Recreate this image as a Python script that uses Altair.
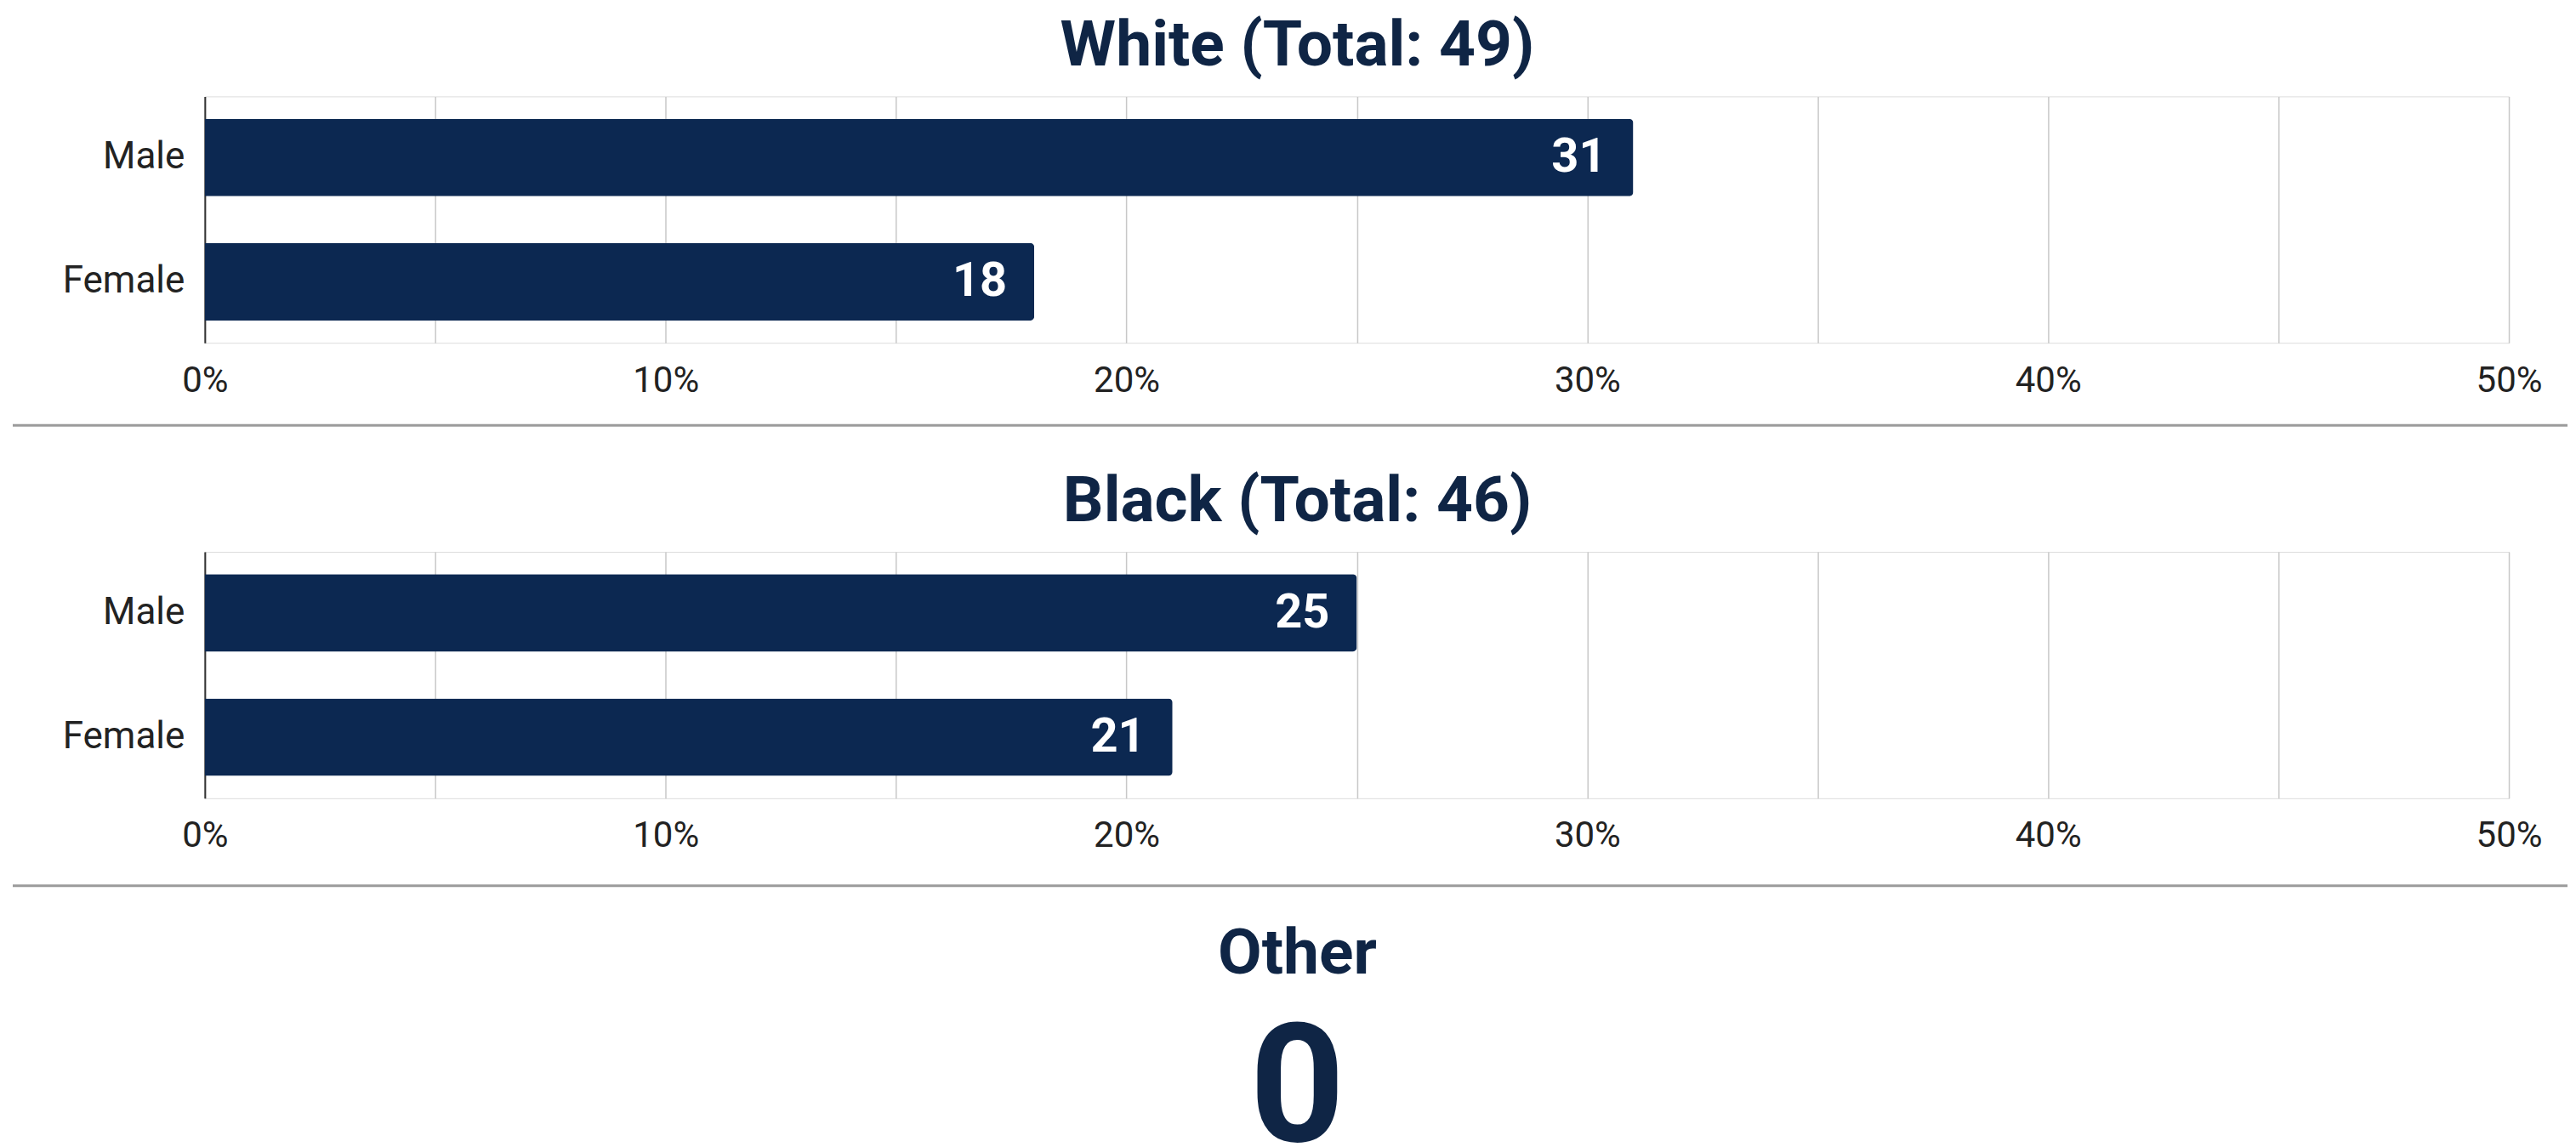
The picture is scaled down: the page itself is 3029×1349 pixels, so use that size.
import altair as alt
import pandas as pd

# ---- data ----
genders = ["Male", "Female"]
white_counts = [31, 18]
black_counts = [25, 21]
white_total = 49
black_total = 46
other_label = "Other"
other_total = [0]
tick_values = [0, 5, 10, 15, 20, 25, 30, 35, 40, 45, 50]
x_domain = [0, 50]

# ---- styling ----
NAVY = "#0c2851"
TITLE_COLOR = "#0f2545"
FONT = "Roboto"
W = 2711
H = 290


def panel(title, counts, sep_y):
    df = pd.DataFrame({"gender": genders, "count": counts})
    base = alt.Chart(df)
    x = alt.X(
        "count:Q",
        scale=alt.Scale(domain=x_domain, nice=False, zero=True),
        axis=alt.Axis(
            values=tick_values,
            labelExpr="datum.value % 10 == 0 ? datum.value + '%' : ''",
            title=None,
            domain=False,
            ticks=False,
            grid=True,
            gridColor="#c8c8c8",
            gridWidth=1.5,
            labelFont=FONT,
            labelFontSize=42,
            labelColor="#222222",
            labelPadding=24,
            labelFlush=False,
            labelOverlap=False,
        ),
    )
    y = alt.Y(
        "gender:N",
        sort=genders,
        scale=alt.Scale(paddingInner=0.377, paddingOuter=0.18),
        axis=alt.Axis(
            title=None,
            domain=True,
            domainColor="#333333",
            domainWidth=2,
            ticks=False,
            grid=False,
            labelFont=FONT,
            labelFontSize=44,
            labelColor="#222222",
            labelPadding=24,
        ),
    )
    bars = base.mark_bar(color=NAVY, cornerRadiusEnd=5).encode(x=x, y=y)
    labels = base.mark_text(
        align="right",
        baseline="middle",
        dx=-32,
        color="white",
        font=FONT,
        fontSize=56,
        fontWeight="bold",
    ).encode(x="count:Q", y=alt.Y("gender:N", sort=genders), text="count:Q")
    sep = (
        alt.Chart(pd.DataFrame({"s": [0]}))
        .mark_rule(color="#9b9b9b", strokeWidth=3)
        .encode(x=alt.value(-226), x2=alt.value(2780), y=alt.value(sep_y))
    )
    return alt.layer(bars, labels, sep).properties(
        width=W,
        height=H,
        title=alt.TitleParams(
            text=title,
            font=FONT,
            fontSize=75,
            fontWeight="bold",
            color=TITLE_COLOR,
            anchor="middle",
            frame="group",
            dx=-70,
            offset=20,
        ),
    )


white = panel(f"White (Total: {white_total})", white_counts, 387)
black = panel(f"Black (Total: {black_total})", black_counts, 393)

other_df = pd.DataFrame({"label": [other_label], "count": other_total})
other = (
    alt.Chart(other_df)
    .mark_text(
        font=FONT,
        fontSize=195,
        fontWeight="bold",
        color=TITLE_COLOR,
        baseline="middle",
        align="center",
    )
    .encode(text="count:Q")
    .properties(
        width=W - 140,
        height=196,
        title=alt.TitleParams(
            text=other_label,
            font=FONT,
            fontSize=75,
            fontWeight="bold",
            color=TITLE_COLOR,
            anchor="middle",
            frame="group",
            offset=24,
        ),
    )
)

chart = (
    alt.vconcat(white, black, other, spacing=246, bounds="flush")
    .properties(padding={"left": 5, "top": 8, "right": 0, "bottom": 0})
    .configure_view(stroke=None)
    .configure(background="white")
)

chart.save("out.html", embed_options={"renderer": "svg", "actions": False})
